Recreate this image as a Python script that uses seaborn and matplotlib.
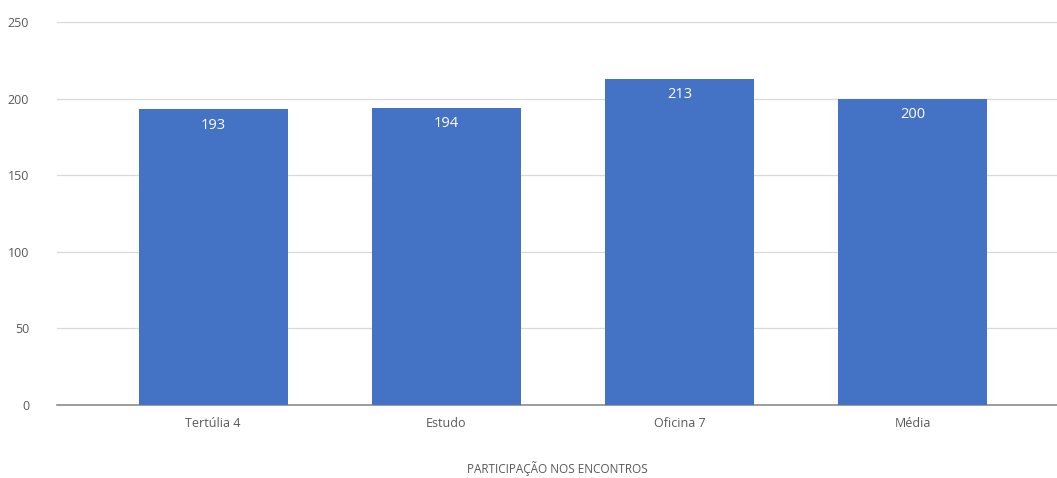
import pandas as pd
import matplotlib
matplotlib.use("Agg")
import matplotlib.pyplot as plt
import seaborn as sns

# Participation per meeting
categorias = ["Tertúlia 4", "Estudo", "Oficina 7", "Média"]
participantes = [193, 194, 213, 200]
y_ticks = [0, 50, 100, 150, 200, 250]

df = pd.DataFrame({"encontro": categorias, "total": participantes})

sns.set_style("white")
plt.rcParams["font.family"] = ["Open Sans", "DejaVu Sans"]

fig = plt.figure(figsize=(10.57, 4.78), dpi=100)
ax = fig.add_axes([0.054, 0.153, 0.946, 0.801])

sns.barplot(data=df, x="encontro", y="total", color="#4472C4", saturation=1,
            width=0.64, linewidth=0, ax=ax, zorder=3)

# value labels inside the top of each bar
for i, v in enumerate(participantes):
    ax.annotate(str(v), (i, v), xytext=(0, -6), textcoords="offset points",
                ha="center", va="top", color="white", fontsize=10.5)

ax.set_ylim(0, 250)
ax.set_xlim(-0.67, 3.62)
ax.set_yticks(y_ticks)
ax.yaxis.grid(True, color="#d9d9d9", linewidth=0.9, zorder=0)
ax.tick_params(axis="both", length=0, labelsize=9, colors="#595959")
ax.tick_params(axis="x", pad=9)
ax.tick_params(axis="y", pad=20)

for s in ["top", "right", "left"]:
    ax.spines[s].set_visible(False)
ax.spines["bottom"].set_color("#8c8c8c")
ax.spines["bottom"].set_linewidth(1.2)

ax.set_ylabel("")
ax.set_xlabel("PARTICIPAÇÃO NOS ENCONTROS", fontsize=8.5, color="#595959", labelpad=22)

fig.savefig("out.png", dpi=100)
